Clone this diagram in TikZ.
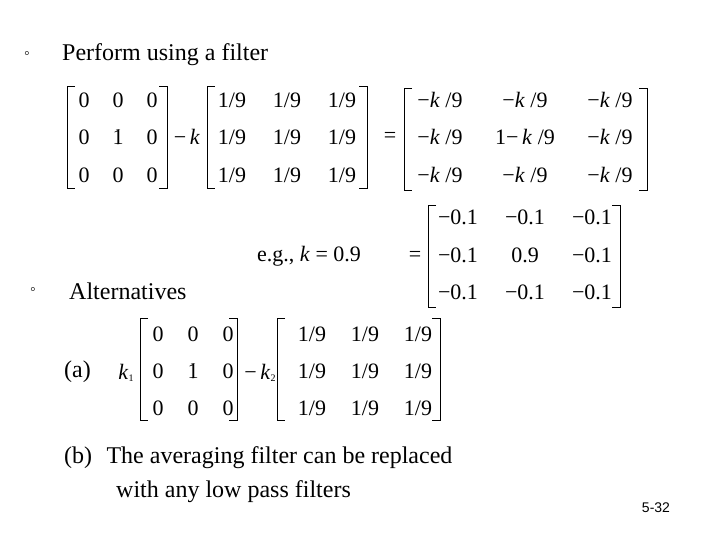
\documentclass[tikz,border=0pt]{standalone}
\usepackage{fontspec}
\setmainfont{Liberation Serif}
\newcommand\brk[4]{\draw[brline] (#1+8,#3)--(#1,#3)--(#1,#4)--(#1+8,#4); \draw[brline] (#2-8,#3)--(#2,#3)--(#2,#4)--(#2-8,#4);}
\begin{document}
\begin{tikzpicture}[x=1pt,y=-1pt,
  brline/.style={line width=0.9pt},
  t/.style={inner sep=0pt,font=\fontsize{24}{28}\selectfont},
  m/.style={inner sep=0pt,font=\fontsize{22}{24}\selectfont}]
\useasboundingbox (0,0) rectangle (720,540);
% heading
\node[t,anchor=west] (b1) at (24,55) {\fontsize{16}{16}\selectfont ◦};
\node[t,anchor=west] (h1) at (62,55) {Perform using a filter};
% matrix 1
\brk{67}{167}{86}{188}
\foreach \r/\y in {0/100,1/137,2/175}{\foreach \x in {84,118,152}{\node[m] (m1\x\r) at (\x,\y) {0};}}
\node[m,fill=white] (one1) at (118,137) {1};
\node[m] (mk) at (187,137) {−\,\textit{k}};
% matrix 2
\brk{207}{367}{86}{188}
\foreach \y in {100,137,175}{\foreach \x in {232,287,342}{\node[m] (m2\x\y) at (\x,\y) {1/9};}}
\node[m] (eq1) at (390,137) {=};
% matrix 3
\brk{404}{647}{88}{190}
\foreach \y in {100,137,175}{\foreach \x in {440,610}{\node[m] (m3\x\y) at (\x,\y) {−\textit{k} /9};}}
\node[m] (c1) at (525,100) {−\textit{k} /9};
\node[m] (c2) at (525,137) {1−\,\textit{k} /9};
\node[m] (c3) at (525,175) {−\textit{k} /9};
% e.g.
\node[m,anchor=west] (eg) at (257,256) {e.g., \textit{k} = 0.9};
\node[m] (eq2) at (415,256) {=};
\brk{428}{620}{205}{307}
\foreach \y in {217,255,292}{\foreach \x in {458,592}{\node[m] (m4\x\y) at (\x,\y) {−0.1};}}
\node[m] (d1) at (525,217) {−0.1};
\node[m] (d2) at (525,255) {0.9};
\node[m] (d3) at (525,292) {−0.1};
% alternatives
\node[t,anchor=west] (b2) at (30,291) {\fontsize{16}{16}\selectfont ◦};
\node[t,anchor=west] (h2) at (69,291) {Alternatives};
\node[t,anchor=west] (a) at (64,372) {(a)};
\node[m] (k1) at (126,373) {\textit{k}\raisebox{-2pt}{\fontsize{10}{10}\selectfont 1}};
\brk{140}{237}{318}{420}
\foreach \r/\y in {0/334,1/371,2/408}{\foreach \x in {158,193,228}{\node[m] (m5\x\r) at (\x,\y) {0};}}
\node[m,fill=white] (one2) at (193,371) {1};
\node[m] (k2) at (260,373) {−\,\textit{k}\raisebox{-2pt}{\fontsize{10}{10}\selectfont 2}};
\brk{277}{440}{318}{420}
\foreach \y in {334,371,408}{\foreach \x in {312,365,418}{\node[m] (m6\x\y) at (\x,\y) {1/9};}}
% (b)
\node[t,anchor=west] (bb) at (64,458) {(b)\hspace{0.35em} The averaging filter can be replaced};
\node[t,anchor=west] (bb2) at (116,492) {with any low pass filters};
\node[inner sep=0pt,font=\fontsize{14}{14}\selectfont\setmainfont{Liberation Sans}] (pg) at (656,508) {5-32};
\end{tikzpicture}
\end{document}
